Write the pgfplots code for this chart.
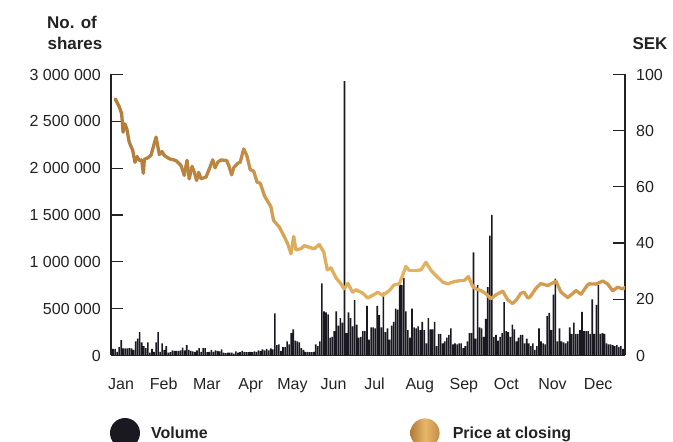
\documentclass[border=0pt]{standalone}
\usepackage{fontspec}
\setmainfont{Liberation Sans}
\usepackage{pgfplots}
\pgfplotsset{compat=1.18}
\definecolor{volcol}{RGB}{26,25,33}
\definecolor{txt}{RGB}{34,34,34}
\definecolor{gold1}{RGB}{178,122,58}
\definecolor{gold2}{RGB}{232,184,104}
\definecolor{gold3}{RGB}{196,140,72}
\pgfplotsset{colormap={goldmap}{rgb255(0cm)=(180,124,58) rgb255(6cm)=(190,136,66) rgb255(9cm)=(222,172,92) rgb255(15cm)=(228,180,98) rgb255(20cm)=(214,160,82) rgb255(25cm)=(206,148,72)}}
\begin{document}
\begin{tikzpicture}
\path[use as bounding box] (0,0) rectangle (673pt,442pt);
\pgfplotsset{
  base/.style={
    at={(111pt,86.5pt)}, anchor=south west,
    scale only axis, width=514pt, height=281pt,
    xmin=0, xmax=251, enlargelimits=false,
    axis line style={txt, line width=1.2pt},
    major tick length=12pt, tick align=inside,
    tick style={txt, line width=1.2pt},
    ticklabel style={font=\fontsize{16}{19}\selectfont, text=txt},
    /pgf/number format/assume math mode=true,
  }
}
\begin{axis}[base,
  ymin=0, ymax=3000,
  axis y line*=left, axis x line*=bottom,
  ytick={0,500,1000,1500,2000,2500,3000},
  yticklabels={0,500 000,1 000 000,1 500 000,2 000 000,2 500 000,3 000 000},
  yticklabel style={anchor=east, inner sep=0pt, xshift=-10pt},
  xtick={4.9,25.7,46.8,68.3,88.6,108.7,128.7,150.8,172.3,193.1,215.6,237.9},
  xticklabels={Jan,Feb,Mar,Apr,May,Jun,Jul,Aug,Sep,Oct,Nov,Dec},
  xtick style={draw=none},
  xticklabel style={anchor=base, inner sep=0pt, yshift=-34pt},
]
\addplot[ybar, bar width=1.6pt, fill=volcol, draw=none] coordinates {
(1,70)(2,70)(3,40)(4,90)(5,165)(6,75)(7,75)(8,75)(9,80)(10,75)
(11,60)(12,150)(13,180)(14,250)(15,140)(16,100)(17,80)(18,140)(19,30)(20,70)
(21,40)(22,140)(23,250)(24,40)(25,130)(26,60)(27,100)(28,30)(29,35)(30,55)
(31,50)(32,50)(33,50)(34,55)(35,85)(36,55)(37,110)(38,60)(39,50)(40,45)
(41,40)(42,55)(43,80)(44,40)(45,80)(46,80)(47,35)(48,40)(49,60)(50,40)
(51,55)(52,50)(53,45)(54,65)(55,30)(56,25)(57,30)(58,30)(59,30)(60,20)
(61,45)(62,30)(63,35)(64,50)(65,40)(66,35)(67,35)(68,40)(69,35)(70,45)
(71,40)(72,55)(73,50)(74,65)(75,55)(76,70)(77,55)(78,75)(79,65)(80,450)
(81,110)(82,120)(83,50)(84,90)(85,90)(86,150)(87,120)(88,240)(89,280)(90,160)
(91,150)(92,140)(93,80)(94,60)(95,40)(96,40)(97,35)(98,35)(99,40)(100,120)
(101,100)(102,150)(103,770)(104,470)(105,460)(106,440)(107,190)(108,200)(109,260)(110,470)
(111,320)(112,400)(113,350)(114,2930)(115,240)(116,460)(117,400)(118,310)(119,590)(120,330)
(121,190)(122,200)(123,260)(124,260)(125,530)(126,170)(127,300)(128,300)(129,290)(130,530)
(131,430)(132,300)(133,670)(134,250)(135,290)(136,170)(137,320)(138,360)(139,500)(140,490)
(141,780)(142,750)(143,830)(144,470)(145,270)(146,190)(147,500)(148,300)(149,290)(150,310)
(151,270)(152,360)(153,270)(154,130)(155,400)(156,280)(157,280)(158,360)(159,100)(160,230)
(161,230)(162,130)(163,150)(164,190)(165,220)(166,290)(167,120)(168,130)(169,120)(170,130)
(171,130)(172,80)(173,100)(174,150)(175,240)(176,240)(177,1100)(178,180)(179,750)(180,300)
(181,290)(182,200)(183,390)(184,730)(185,1280)(186,1500)(187,200)(188,220)(189,160)(190,200)
(191,240)(192,570)(193,260)(194,250)(195,200)(196,330)(197,280)(198,150)(199,190)(200,220)
(201,220)(202,130)(203,180)(204,130)(205,100)(206,130)(207,60)(208,100)(209,290)(210,150)
(211,130)(212,120)(213,420)(214,455)(215,270)(216,650)(217,820)(218,150)(219,290)(220,150)
(221,140)(222,130)(223,150)(224,300)(225,230)(226,350)(227,230)(228,230)(229,270)(230,465)
(231,260)(232,260)(233,260)(234,230)(235,600)(236,230)(237,540)(238,750)(239,230)(240,240)
(241,230)(242,130)(243,120)(244,120)(245,110)(246,100)(247,110)(248,90)(249,100)(250,70)
};
\end{axis}
\begin{axis}[base,
  ymin=0, ymax=100,
  axis y line*=right, axis x line=none,
  ytick={0,20,40,60,80,100},
  yticklabels={0,20,40,60,80,100},
  yticklabel style={anchor=west, inner sep=0pt, xshift=11pt},
  point meta min=0, point meta max=251,
  colormap name=goldmap,
]
\addplot[mesh, point meta=x, line width=3.3pt, line cap=round, line join=round] coordinates {
(2.1,91.3)(4.1,88.4)(5.2,86.0)(5.9,79.5)(6.8,82.4)(7.7,80.7)(8.9,75.9)(10.6,73)(11.7,68.8)(12.7,70.8)
(13.8,69.4)(15.0,69.6)(15.8,64.9)(16.3,69.8)(17.9,70.3)(19.5,71.2)(22.0,77.7)(23.6,71.5)(24.9,72.6)(26.0,71.2)
(28.5,70)(31.7,69.4)(34.2,67.6)(35.8,64.1)(37.1,69.4)(38.2,62.9)(39.6,67.3)(40.7,65.2)(41.8,62.3)(42.8,65.2)
(44.0,62.9)(46.4,63.5)(48.0,66.4)(49.7,69.6)(50.8,66.8)(52.1,68.8)(53.7,69.6)(56.5,69.4)(57.8,67)(58.9,64.3)
(59.9,66.8)(61.9,68.4)(63.1,68.8)(64.8,73.5)(66.3,71.2)(68.0,66.1)(69.7,65.6)(71.3,61.7)(72.9,61.3)(74.9,56.9)
(76.5,54.9)(78.1,52.9)(79.4,48)(82.2,45.7)(84.6,42.3)(86.3,39.7)(87.9,36.2)(89.2,42.3)(90.3,37.6)(92.8,38)
(94.4,39.1)(96.8,38.5)(99.3,38)(101.7,39.5)(103.9,36.8)(105.6,30.5)(107.4,31.2)(109.9,27.6)(112.3,25.5)(113.9,23.7)
(115.6,25.7)(118.0,22.5)(119.6,23.4)(122.9,22.2)(125.3,20.5)(127.8,21.4)(130.2,22.5)(132.7,21.4)(135.9,23.1)(138.3,25.2)
(140.8,25.5)(142.4,28.5)(144.0,31.7)(145.7,30.2)(148.9,30.2)(151.4,30.5)(153.8,33.2)(156.3,30.2)(158.7,28.5)(162.0,26.1)
(164.4,25.5)(167.6,26.3)(170.9,26.7)(172.5,26.7)(174.5,28.1)(176.6,24.6)(178.2,23.7)(180.7,23.1)(183.1,22)(185.5,20.2)
(188.0,21.6)(191.3,22.9)(193.7,19.8)(196.1,18.5)(197.8,19.6)(200.2,22.2)(201.8,22.5)(203.5,20.5)(204.5,20.7)(207.5,23.9)
(209.9,25.6)(213.2,24.9)(216.5,26.1)(217.3,26.4)(219.7,22.6)(223.0,20.6)(226.2,22.5)(227.1,23.1)(229.5,21.8)(232.8,25.2)
(233.5,25.5)(236.8,25.4)(240.1,26.5)(242.5,25.5)(245.0,23)(247.4,24.3)(249.9,23.7)(251,24.2)
};
\end{axis}
\node[font=\fontsize{17}{20}\selectfont\bfseries, text=txt, anchor=base, inner sep=0pt] at (72pt,413.7pt) {No. of};
\node[font=\fontsize{17}{20}\selectfont\bfseries, text=txt, anchor=base, inner sep=0pt] at (75pt,392.7pt) {shares};
\node[font=\fontsize{17}{20}\selectfont\bfseries, text=txt, anchor=base, inner sep=0pt] at (650pt,392.7pt) {SEK};
\fill[volcol] (125pt,9pt) circle (15pt);
\shade[left color=gold1, right color=gold3, middle color=gold2] (425pt,9pt) circle (14.6pt);
\node[font=\fontsize{16}{19}\selectfont\bfseries, text=txt, anchor=base west, inner sep=0pt] at (151pt,3.2pt) {Volume};
\node[font=\fontsize{16}{19}\selectfont\bfseries, text=txt, anchor=base west, inner sep=0pt] at (452.6pt,3.2pt) {Price at closing};
\end{tikzpicture}
\end{document}
